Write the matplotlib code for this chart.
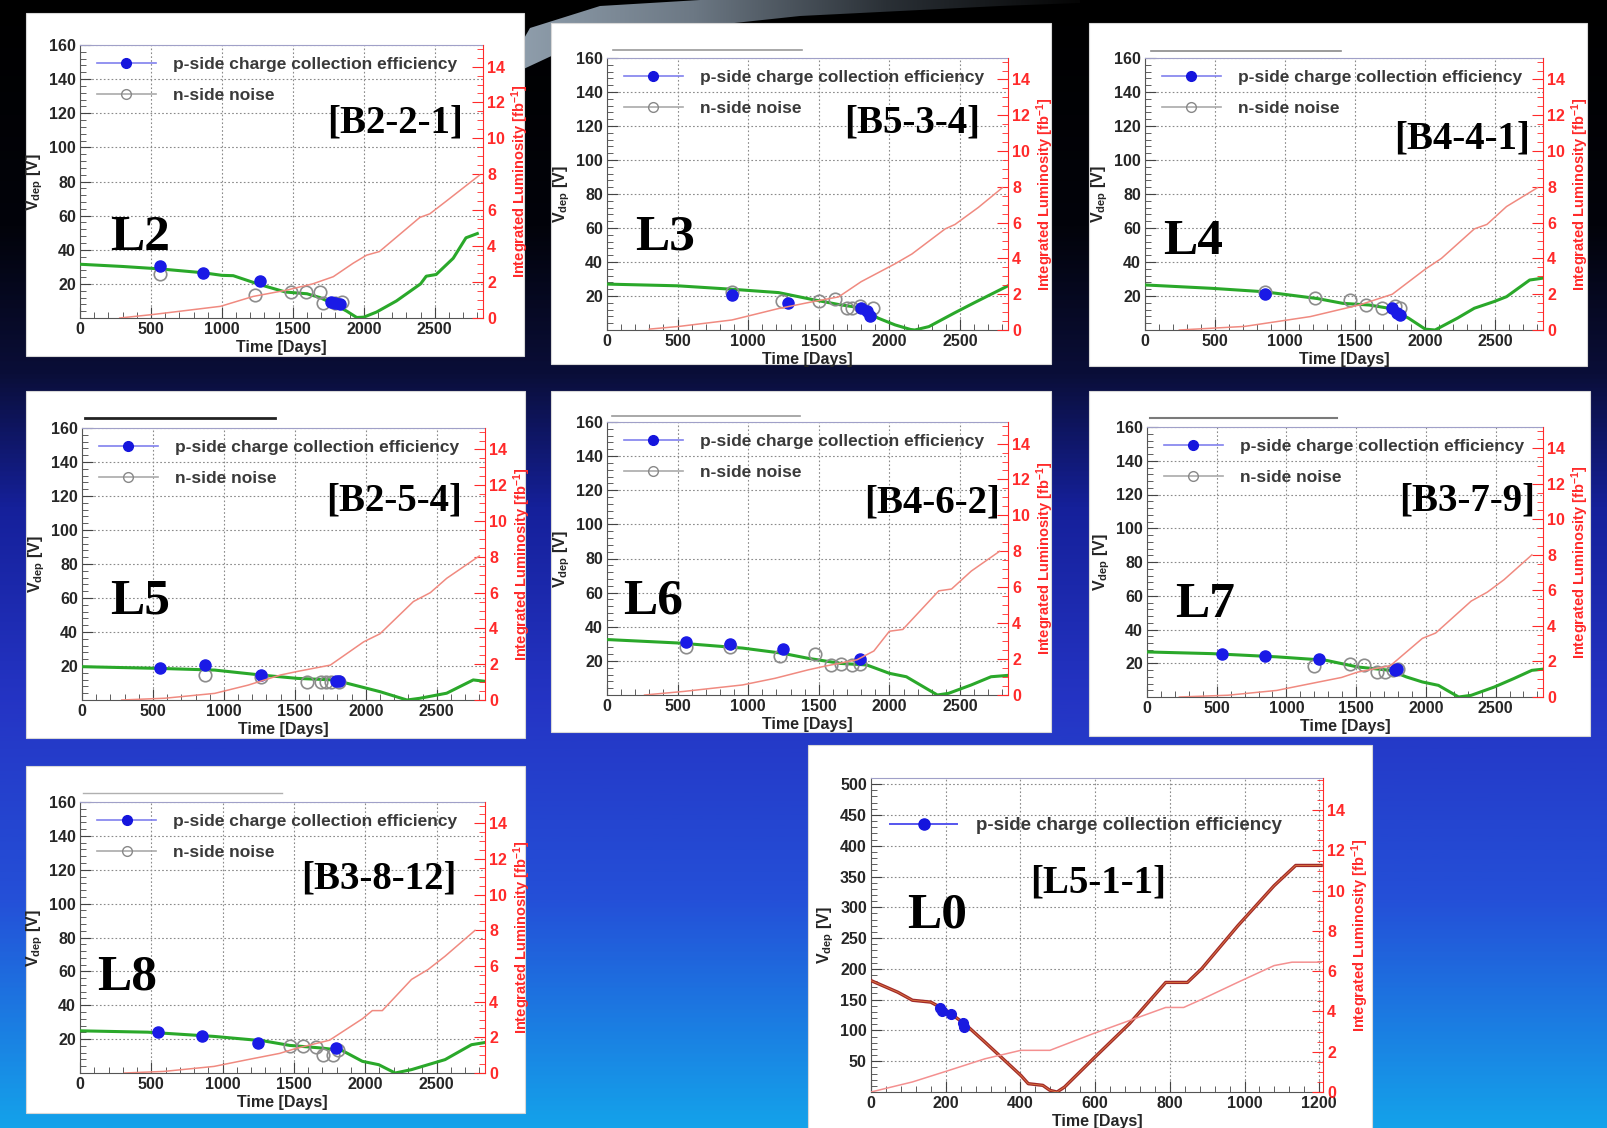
import numpy as np
import matplotlib
matplotlib.use("Agg")
import matplotlib.pyplot as plt
from matplotlib.colors import LinearSegmentedColormap
from matplotlib.lines import Line2D
from matplotlib.patches import Rectangle, Polygon
from matplotlib.ticker import MultipleLocator

plt.rcParams['font.family'] = ['Liberation Sans', 'DejaVu Sans']
plt.rcParams['font.weight'] = 'bold'
plt.rcParams['mathtext.fontset'] = 'custom'
plt.rcParams['mathtext.rm'] = 'Liberation Sans:bold'
plt.rcParams['mathtext.bf'] = 'Liberation Sans:bold'
plt.rcParams['mathtext.it'] = 'Liberation Sans:bold'

# ---------------- data ----------------
legend_p = "p-side charge collection efficiency"
legend_n = "n-side noise"
x_label = "Time [Days]"
y_label = "V$_{\\mathrm{dep}}$ [V]"
y2_label = "Integrated Luminosity [fb$^{\\mathrm{-1}}$]"

# L2 [B2-2-1]
L2_vdep_days = [0, 300, 560, 870, 1000, 1080, 1270, 1450, 1600, 1690, 1780, 1880, 1950, 2000, 2090, 2230, 2400, 2440, 2510, 2630, 2720, 2800]
L2_vdep = [31.5, 30.2, 28.8, 26.5, 25, 24.8, 19.5, 15.2, 14.2, 12, 8.5, 4, 0.3, 0.5, 3.5, 10, 20, 24.5, 25.5, 35, 47, 49.5]
L2_lumi_days = [280, 520, 990, 1220, 1455, 1640, 1785, 1925, 2020, 2110, 2395, 2465, 2580, 2815]
L2_lumi = [0, 0.2, 0.65, 1.2, 1.55, 1.9, 2.3, 3.05, 3.5, 3.7, 5.6, 5.8, 6.5, 7.95]
L2_p_days = [563, 869, 1268, 1772, 1800, 1830]
L2_p = [30.5, 26.5, 21.5, 9.5, 8.5, 8]
L2_n_days = [563, 1232, 1490, 1596, 1690, 1715, 1796, 1843]
L2_n = [25.5, 13.5, 15, 15, 15, 9, 9, 9.5]

# L3 [B5-3-4]
L3_vdep_days = [0, 500, 880, 1215, 1450, 1640, 1800, 1920, 2040, 2150, 2180, 2280, 2460, 2600, 2840]
L3_vdep = [27, 26, 24, 22, 18, 15, 13, 7, 3, 0.3, 0, 2, 10, 16, 26]
L3_lumi_days = [300, 510, 885, 1215, 1450, 1640, 1800, 2040, 2160, 2395, 2465, 2630, 2800]
L3_lumi = [0.05, 0.2, 0.56, 1.2, 1.57, 1.85, 2.7, 3.7, 4.25, 5.65, 5.9, 6.85, 7.95]
L3_p_days = [884, 1285, 1800, 1840, 1860]
L3_p = [20.5, 16, 13, 11, 8]
L3_n_days = [884, 1238, 1498, 1616, 1700, 1733, 1792, 1887]
L3_n = [22.5, 17, 17, 18, 13, 13, 14, 13]

# L4 [B4-4-1]
L4_vdep_days = [0, 480, 850, 1230, 1410, 1600, 1740, 1880, 2000, 2070, 2230, 2350, 2490, 2580, 2745, 2840]
L4_vdep = [26.5, 24.5, 22.5, 18.5, 15.7, 14.7, 12.8, 7, 0.5, 0, 7, 12.8, 16.7, 19.6, 29.4, 30.5]
L4_lumi_days = [245, 710, 1180, 1530, 1765, 2000, 2115, 2350, 2440, 2580, 2800]
L4_lumi = [0, 0.2, 0.75, 1.4, 2.0, 3.4, 4.0, 5.65, 5.9, 6.9, 7.95]
L4_p_days = [853, 1764, 1800, 1822]
L4_p = [21, 13, 10, 9]
L4_n_days = [853, 1215, 1460, 1577, 1694, 1787, 1822]
L4_n = [22.5, 18.6, 17.5, 14.7, 13, 14, 13]

# L5 [B2-5-4]
L5_vdep_days = [0, 540, 935, 1260, 1520, 1775, 1870, 2100, 2290, 2380, 2570, 2757, 2840]
L5_vdep = [19.6, 18.6, 17.6, 14.7, 12.7, 11.8, 9.8, 4.9, 0, 1, 4, 11.8, 11]
L5_lumi_days = [280, 585, 935, 1170, 1400, 1520, 1750, 1985, 2100, 2335, 2455, 2570, 2800]
L5_lumi = [0, 0.1, 0.37, 0.83, 1.4, 1.6, 1.95, 3.25, 3.7, 5.5, 6.0, 6.8, 8.05]
L5_p_days = [549, 864, 1262, 1790, 1811]
L5_p = [18.8, 20.6, 14.7, 11.2, 11.2]
L5_n_days = [864, 1262, 1589, 1682, 1720, 1752, 1811]
L5_n = [14.7, 13.7, 10.8, 10.8, 10.8, 10.8, 10.8]

# L6 [B4-6-2]
L6_vdep_days = [0, 500, 960, 1240, 1425, 1655, 1840, 2000, 2120, 2340, 2420, 2580, 2720, 2840]
L6_vdep = [32.5, 30.5, 27.5, 24.5, 21.5, 18.5, 17.6, 12.7, 10.7, 0, 1, 5.9, 10.7, 11.5]
L6_lumi_days = [266, 545, 960, 1190, 1425, 1540, 1770, 1890, 2000, 2095, 2350, 2440, 2580, 2780]
L6_lumi = [0, 0.2, 0.56, 0.93, 1.4, 1.6, 1.96, 2.45, 3.55, 3.65, 5.8, 5.9, 6.9, 8.0]
L6_p_days = [556, 868, 1250, 1794]
L6_p = [31.2, 29.7, 26.8, 20.9]
L6_n_days = [556, 868, 1227, 1470, 1586, 1655, 1736, 1794]
L6_n = [28, 28, 23, 24, 17.6, 18, 17.6, 18]

# L7 [B3-7-9]
L7_vdep_days = [0, 465, 930, 1280, 1510, 1745, 1860, 1975, 2090, 2235, 2325, 2490, 2630, 2760, 2840]
L7_vdep = [26.7, 25.7, 23.8, 21.8, 17.8, 15.8, 11.9, 8.9, 6.9, 0, 1, 5.9, 10.9, 15.8, 16.5]
L7_lumi_days = [232, 580, 930, 1165, 1395, 1510, 1745, 1975, 2070, 2325, 2440, 2560, 2760]
L7_lumi = [0, 0.1, 0.37, 0.74, 1.1, 1.4, 1.76, 3.3, 3.6, 5.4, 5.9, 6.6, 8.0]
L7_p_days = [535, 849, 1233, 1779, 1795]
L7_p = [25.3, 24.3, 22.3, 16.2, 16.4]
L7_n_days = [1198, 1453, 1558, 1651, 1709, 1767, 1802]
L7_n = [18.2, 19.8, 19.2, 14.9, 14.9, 15.8, 16.4]

# L8 [B3-8-12]
L8_vdep_days = [0, 475, 940, 1285, 1470, 1700, 1840, 1980, 2095, 2210, 2325, 2560, 2745, 2840]
L8_vdep = [24.9, 24.1, 21.6, 19, 16.3, 14.7, 13.2, 6.9, 4.9, 0, 2, 7.9, 16.7, 18]
L8_lumi_days = [312, 590, 940, 1170, 1400, 1515, 1750, 1980, 2050, 2120, 2325, 2440, 2560, 2770]
L8_lumi = [0, 0.09, 0.37, 0.74, 1.1, 1.38, 1.84, 3.04, 3.5, 3.5, 5.25, 5.8, 6.55, 8.0]
L8_p_days = [544, 856, 1250, 1794]
L8_p = [24.5, 22, 18, 14.7]
L8_n_days = [1470, 1563, 1655, 1701, 1771, 1806]
L8_n = [15.7, 15.7, 15.1, 10.8, 10.8, 13.7]

# L0 [L5-1-1]
L0_vdep_days = [0, 72, 111, 160, 208, 256, 305, 353, 401, 421, 460, 479, 498, 518, 595, 692, 789, 847, 885, 982, 1079, 1137, 1205]
L0_vdep = [181, 162, 149, 146, 130, 108, 81, 54, 27, 13.5, 10.8, 2.7, 0, 8, 54, 111, 178, 178, 200, 270, 335, 368, 368]
L0_lumi_days = [0, 111, 208, 305, 401, 479, 595, 692, 789, 837, 885, 982, 1079, 1127, 1205]
L0_lumi = [0, 0.5, 1.07, 1.65, 2.07, 2.07, 2.9, 3.55, 4.2, 4.2, 4.6, 5.45, 6.28, 6.45, 6.45]
L0_p_days = [184, 190, 213, 245, 250]
L0_p = [136, 131, 126, 112, 106]
L0_p_err = [8, 8, 8, 8, 8]

panel_names = ["L2", "L3", "L4", "L5", "L6", "L7", "L8", "L0"]
module_ids = ["[B2-2-1]", "[B5-3-4]", "[B4-4-1]", "[B2-5-4]", "[B4-6-2]", "[B3-7-9]", "[B3-8-12]", "[L5-1-1]"]

data = {
    "L2": (L2_vdep_days, L2_vdep, L2_lumi_days, L2_lumi, L2_p_days, L2_p, L2_n_days, L2_n),
    "L3": (L3_vdep_days, L3_vdep, L3_lumi_days, L3_lumi, L3_p_days, L3_p, L3_n_days, L3_n),
    "L4": (L4_vdep_days, L4_vdep, L4_lumi_days, L4_lumi, L4_p_days, L4_p, L4_n_days, L4_n),
    "L5": (L5_vdep_days, L5_vdep, L5_lumi_days, L5_lumi, L5_p_days, L5_p, L5_n_days, L5_n),
    "L6": (L6_vdep_days, L6_vdep, L6_lumi_days, L6_lumi, L6_p_days, L6_p, L6_n_days, L6_n),
    "L7": (L7_vdep_days, L7_vdep, L7_lumi_days, L7_lumi, L7_p_days, L7_p, L7_n_days, L7_n),
    "L8": (L8_vdep_days, L8_vdep, L8_lumi_days, L8_lumi, L8_p_days, L8_p, L8_n_days, L8_n),
    "L0": (L0_vdep_days, L0_vdep, L0_lumi_days, L0_lumi, L0_p_days, L0_p, None, None),
}

# ---------------- layout (pixels) ----------------
W, H = 1608, 1128
layout = {
    "L2": dict(box=(26, 13, 524, 356), ax=(80, 45, 483, 318), L=(110, 250), B=(463, 133), line=None),
    "L3": dict(box=(551, 23, 1051, 364), ax=(607, 58, 1008, 330), L=(635, 249), B=(980, 133), line=(613, 802, 50, '#9a9a9a', 1.2)),
    "L4": dict(box=(1089, 23, 1587, 366), ax=(1145, 58, 1543, 330), L=(1163, 254), B=(1530, 149), line=(1151, 1341, 51, '#8a8a8a', 1.2)),
    "L5": dict(box=(26, 391, 525, 738), ax=(82, 428, 485, 700), L=(110, 614), B=(462, 510), line=(85, 275, 418, '#222222', 2.0)),
    "L6": dict(box=(551, 391, 1051, 732), ax=(607, 422, 1008, 695), L=(623, 614), B=(1000, 513), line=(612, 800, 416, '#9a9a9a', 1.2)),
    "L7": dict(box=(1089, 391, 1590, 736), ax=(1147, 427, 1543, 697), L=(1175, 617), B=(1535, 510), line=(1150, 1337, 418, '#7a7a7a', 1.5)),
    "L8": dict(box=(26, 766, 525, 1113), ax=(80, 802, 485, 1073), L=(97, 990), B=(457, 888), line=(83, 282, 793, '#b0b0b0', 1.0)),
    "L0": dict(box=(808, 745, 1372, 1132), ax=(871, 778, 1323, 1092), L=(907, 928), B=(1166, 893), line=None),
}

fig = plt.figure(figsize=(W / 100, H / 100), dpi=100)

# background slide
bg = fig.add_axes([0, 0, 1, 1], zorder=-10)
bg.set_xlim(0, W)
bg.set_ylim(H, 0)
bg.axis('off')
cmap = LinearSegmentedColormap.from_list('slide', [
    (0.0, '#000000'), (0.20, '#02030a'), (0.33, '#0a0e38'), (0.45, '#15209a'),
    (0.62, '#2434c4'), (0.80, '#2450d8'), (1.0, '#14a2ea')])
bg.imshow(np.linspace(0, 1, 512).reshape(-1, 1), cmap=cmap, extent=[0, W, H, 0], aspect='auto')
# grey swoosh of the slide template, fading to the right
swoosh = Polygon([(500, 80), (560, 52), (650, 32), (800, 16), (1000, 6), (1080, 3), (1080, 0), (700, 0), (600, 6), (530, 28)],
                 closed=True, facecolor='none', edgecolor='none')
bg.add_patch(swoosh)
sw_cmap = LinearSegmentedColormap.from_list('sw', ['#93a2b0', '#6c7884', '#2a3036', '#050505'])
sw_img = bg.imshow(np.linspace(0, 1, 256).reshape(1, -1), cmap=sw_cmap, extent=[500, 1080, 80, 0], aspect='auto')
sw_img.set_clip_path(swoosh)
bg.set_xlim(0, W)
bg.set_ylim(H, 0)

for name in panel_names:
    x0, y0, x1, y1 = layout[name]["box"]
    bg.add_patch(Rectangle((x0, y0), x1 - x0, y1 - y0, facecolor='white', edgecolor='#d8d8d8', lw=0.8))
    ln = layout[name]["line"]
    if ln is not None:
        bg.plot([ln[0], ln[1]], [ln[2], ln[2]], color=ln[3], lw=ln[4])


def fx(x):
    return x / W


def fy(y):
    return 1 - y / H


tick_col = '#262626'
red = '#ff2a2a'

for name, mod in zip(panel_names, module_ids):
    lay = layout[name]
    x0, y0, x1, y1 = lay["ax"]
    ax = fig.add_axes([fx(x0), fy(y1), (x1 - x0) / W, (y1 - y0) / H])
    ax2 = ax.twinx()
    vd_x, vd_y, lu_x, lu_y, p_x, p_y, n_x, n_y = data[name]

    if name == "L0":
        ax.set_xlim(0, 1210)
        ax.set_ylim(0, 510)
        ax.set_yticks(np.arange(50, 501, 50))
        ax.yaxis.set_minor_locator(MultipleLocator(10))
        ax.set_xticks(np.arange(0, 1201, 200))
        ax.xaxis.set_minor_locator(MultipleLocator(40))
        ax2.set_ylim(0, 15.6)
        ax.plot(vd_x, vd_y, color='#a02a2a', lw=2.4, zorder=3)
        ax.plot(vd_x, vd_y, color='#e07a40', lw=0.6, zorder=3)
        ax.errorbar(p_x, p_y, yerr=L0_p_err, fmt='o', color='#1a1ae0', ms=7, elinewidth=1.2, capsize=0, zorder=4)
        handles = [Line2D([], [], color='#5555ee', lw=1.4, marker='o', ms=8, mfc='#1515dd', mec='#1515dd')]
        labels = [legend_p]
        leg_anchor = (0.042, 0.875)
        leg_fs = 13.5
        leg_hl = 3.6
        lumi_col = '#f49090'
    else:
        ax.set_xlim(0, 2840)
        ax.set_ylim(0, 160)
        ax.set_yticks(np.arange(20, 161, 20))
        ax.yaxis.set_minor_locator(MultipleLocator(4))
        ax.set_xticks(np.arange(0, 2501, 500))
        ax.xaxis.set_minor_locator(MultipleLocator(100))
        ax2.set_ylim(0, 15.2)
        ax.plot(vd_x, vd_y, color='#2aa82a', lw=2.2, zorder=3)
        ax.plot(n_x, n_y, 'o', ms=9, mfc='none', mec='#8c8c8c', mew=1.2, zorder=4)
        ax.plot(p_x, p_y, 'o', ms=8, color='#1a1ae6', zorder=5)
        handles = [Line2D([], [], color='#8080ee', lw=1.2, marker='o', ms=7, mfc='#1515dd', mec='#1515dd'),
                   Line2D([], [], color='#aaaaaa', lw=1.2, marker='o', ms=7, mfc='none', mec='#888888')]
        labels = [legend_p, legend_n]
        leg_anchor = (0.042, 0.955)
        leg_fs = 12.5
        leg_hl = 3.4
        lumi_col = '#f08a80'

    ax2.plot(lu_x, lu_y, color=lumi_col, lw=1.1, zorder=2)
    ax2.yaxis.set_major_locator(MultipleLocator(2))
    ax2.yaxis.set_minor_locator(MultipleLocator(0.5))

    ax.grid(True, which='major', color='#8a8a8a', linestyle=(0, (1.5, 2)), lw=0.8)
    ax.set_axisbelow(True)
    ax.tick_params(axis='both', which='both', direction='in', color='#444444', labelcolor=tick_col, labelsize=11.5, pad=3)
    ax.tick_params(which='major', length=8, width=0.8)
    ax.tick_params(which='minor', length=4, width=0.6)
    ax2.tick_params(axis='y', which='both', direction='in', color=red, labelcolor=red, labelsize=11.5, pad=3)
    ax2.tick_params(which='major', length=8, width=0.8)
    ax2.tick_params(which='minor', length=4, width=0.6)
    for lab in ax.get_xticklabels() + ax.get_yticklabels() + ax2.get_yticklabels():
        lab.set_fontweight('bold')

    for s in ('left', 'bottom'):
        ax.spines[s].set_color('#555555')
    ax.spines['top'].set_color('#a0a0c8')
    ax.spines['right'].set_visible(False)
    for s in ('left', 'top', 'bottom'):
        ax2.spines[s].set_visible(False)
    ax2.spines['right'].set_color(red)

    ax.set_xlabel(x_label, fontsize=11.5, fontweight='bold', color=tick_col, labelpad=2)
    ax.set_ylabel(y_label, fontsize=11.5, fontweight='bold', color=tick_col, labelpad=3)
    ax2.set_ylabel(y2_label, fontsize=10.5, fontweight='bold', color=red, labelpad=3)

    leg = ax.legend(handles, labels, loc='upper left', bbox_to_anchor=leg_anchor, frameon=False,
                    prop={'size': leg_fs, 'weight': 'bold'}, handlelength=leg_hl, handletextpad=1.0,
                    labelspacing=0.9, borderaxespad=0, borderpad=0)
    for t in leg.get_texts():
        t.set_color('#3a3a3a')

    lx, ly = lay["L"]
    fig.text(fx(lx), fy(ly), name, family='Liberation Serif', weight='bold', fontsize=37,
             color='black', ha='left', va='baseline', zorder=10)
    bx, by = lay["B"]
    fig.text(fx(bx), fy(by), mod, family='Liberation Serif', weight='bold', fontsize=28,
             color='black', ha='right', va='baseline', zorder=10)

fig.savefig("out.png", dpi=100)
